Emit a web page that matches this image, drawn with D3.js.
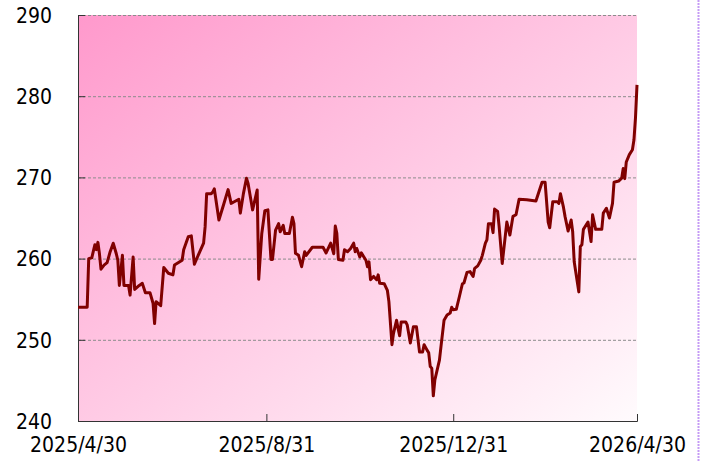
<!DOCTYPE html>
<html>
<head>
<meta charset="utf-8">
<script src="https://cdn.jsdelivr.net/npm/d3@7"></script>
<style>
  body { margin: 0; background: #fff; }
  text { font-family: "DejaVu Sans Condensed", "DejaVu Sans", sans-serif; }
</style>
</head>
<body>
<div id="chart"></div>
<script>
// data
var dates = [
  "2025-04-30","2025-05-06","2025-05-07","2025-05-09","2025-05-11","2025-05-12","2025-05-13","2025-05-14","2025-05-15","2025-05-17",
  "2025-05-19","2025-05-21","2025-05-23","2025-05-25","2025-05-26","2025-05-27","2025-05-29","2025-05-30","2025-06-02","2025-06-03",
  "2025-06-05","2025-06-06","2025-06-09","2025-06-11","2025-06-13","2025-06-16","2025-06-18","2025-06-19","2025-06-20","2025-06-23",
  "2025-06-25","2025-06-28","2025-07-01","2025-07-02","2025-07-07","2025-07-08","2025-07-11","2025-07-13","2025-07-15","2025-07-17",
  "2025-07-21","2025-07-22","2025-07-23","2025-07-26","2025-07-27","2025-07-28","2025-07-31","2025-08-03","2025-08-06","2025-08-08",
  "2025-08-10","2025-08-13","2025-08-14","2025-08-16","2025-08-18","2025-08-19","2025-08-22","2025-08-25","2025-08-26","2025-08-28",
  "2025-08-30","2025-09-01","2025-09-03","2025-09-04","2025-09-06","2025-09-08","2025-09-09","2025-09-11","2025-09-12","2025-09-15",
  "2025-09-17","2025-09-18","2025-09-19","2025-09-21","2025-09-23","2025-09-25","2025-09-26","2025-09-30","2025-10-07","2025-10-09",
  "2025-10-12","2025-10-14","2025-10-15","2025-10-16","2025-10-17","2025-10-20","2025-10-21","2025-10-23","2025-10-25","2025-10-27",
  "2025-10-28","2025-10-29","2025-10-31","2025-11-01","2025-11-04","2025-11-05","2025-11-06","2025-11-07","2025-11-09","2025-11-11",
  "2025-11-12","2025-11-13","2025-11-16","2025-11-18","2025-11-19","2025-11-21","2025-11-22","2025-11-24","2025-11-25","2025-11-26",
  "2025-11-27","2025-11-30","2025-12-01","2025-12-03","2025-12-05","2025-12-07","2025-12-09","2025-12-11","2025-12-12","2025-12-14",
  "2025-12-15","2025-12-16","2025-12-17","2025-12-18","2025-12-19","2025-12-22","2025-12-23","2025-12-25","2025-12-27","2025-12-29",
  "2025-12-30","2025-12-31","2026-01-02","2026-01-04","2026-01-06","2026-01-07","2026-01-09","2026-01-11","2026-01-13","2026-01-14",
  "2026-01-16","2026-01-18","2026-01-19","2026-01-21","2026-01-22","2026-01-23","2026-01-25","2026-01-26","2026-01-27","2026-01-29",
  "2026-01-30","2026-02-01","2026-02-04","2026-02-06","2026-02-08","2026-02-10","2026-02-12","2026-02-17","2026-02-23","2026-02-27",
  "2026-03-01","2026-03-03","2026-03-04","2026-03-06","2026-03-09","2026-03-10","2026-03-11","2026-03-13","2026-03-14","2026-03-16",
  "2026-03-18","2026-03-19","2026-03-20","2026-03-23","2026-03-24","2026-03-25","2026-03-26","2026-03-29","2026-03-31","2026-04-01",
  "2026-04-03","2026-04-07","2026-04-08","2026-04-10","2026-04-12","2026-04-14","2026-04-15","2026-04-18","2026-04-20","2026-04-21",
  "2026-04-22","2026-04-23","2026-04-25","2026-04-27","2026-04-28","2026-04-29","2026-04-30"
];
var prices = [
  254.0,254.0,260.0,260.1,261.7,261.1,262.0,260.6,258.7,259.2,
  259.5,260.85,261.9,260.6,259.8,256.7,260.4,256.7,256.7,255.5,
  260.2,256.2,256.7,256.95,255.8,255.8,254.5,252.0,254.7,254.2,
  258.9,258.2,258.0,259.2,259.8,261.1,262.7,262.8,259.3,260.2,
  261.9,263.9,268.0,268.0,268.2,268.6,264.75,266.6,268.5,266.8,
  267.0,267.3,265.6,268.0,269.9,269.3,266.0,268.45,257.45,263.1,
  265.9,266.0,259.9,259.9,263.5,264.3,263.3,264.1,263.1,263.1,
  265.1,264.3,260.65,260.4,259.0,260.85,260.4,261.4,261.4,260.7,
  261.9,260.6,264.0,263.1,259.9,259.8,261.1,260.85,261.25,261.9,
  260.85,261.25,260.2,260.7,259.8,259.0,259.6,257.4,257.8,257.4,
  258.0,256.95,256.9,256.1,254.7,249.4,250.8,252.4,251.4,250.5,
  252.2,252.2,251.8,249.6,251.6,251.6,248.5,248.5,249.4,248.7,
  248.4,246.7,246.5,243.1,245.05,247.5,249.15,252.4,253.05,253.3,
  254.0,253.7,253.75,255.3,256.9,257.0,258.3,258.4,257.8,258.8,
  259.1,259.8,260.4,261.9,262.3,264.3,264.3,263.2,266.1,265.8,
  263.9,259.4,264.5,262.9,265.2,265.4,267.3,267.25,267.1,269.4,
  269.4,264.5,263.8,267.0,267.0,266.8,268.0,266.3,265.2,263.4,
  264.75,263.3,259.6,255.9,261.5,261.7,263.6,264.5,262.1,265.4,
  263.6,263.6,265.6,266.2,265.0,266.8,269.4,269.55,269.9,271.1,
  269.85,271.9,272.8,273.4,274.6,277.3,281.4
];
var yTicks = [240, 250, 260, 270, 280, 290];
var xTicks = ["2025-04-30", "2025-08-31", "2025-12-31", "2026-04-30"];

var margin = {top: 15, right: 65, bottom: 40, left: 78},
    svgWidth = 702,
    svgHeight = 461;
var width = svgWidth - margin.left - margin.right,
    height = svgHeight - margin.top - margin.bottom;

var parseDate = d3.timeParse("%Y-%m-%d");
var fmt = d3.timeFormat("%Y/%-m/%-d");

var data = dates.map(function(d, i) { return {date: parseDate(d), value: prices[i]}; });

var svg = d3.select("#chart").append("svg")
    .attr("width", svgWidth).attr("height", svgHeight);

var defs = svg.append("defs");
var grad = defs.append("linearGradient").attr("id", "bg")
    .attr("x1", 0).attr("y1", 0).attr("x2", 1).attr("y2", 1);
grad.append("stop").attr("offset", "0%").attr("stop-color", "#ff99cc");
grad.append("stop").attr("offset", "100%").attr("stop-color", "#fffbfd");

var g = svg.append("g")
    .attr("transform", "translate(" + margin.left + "," + margin.top + ")");

var x = d3.scaleTime()
    .domain([parseDate(xTicks[0]), parseDate(xTicks[xTicks.length - 1])])
    .range([0, width]);
var y = d3.scaleLinear().domain([240, 290]).range([height, 0]);

g.append("rect").attr("width", width).attr("height", height).attr("fill", "url(#bg)");

// grid
g.selectAll(".grid").data(yTicks.slice(1)).enter().append("line")
    .attr("x1", 0).attr("x2", width)
    .attr("y1", function(d) { return y(d) + 0.5; })
    .attr("y2", function(d) { return y(d) + 0.5; })
    .attr("stroke", "#8c8c8c").attr("stroke-dasharray", "3,2");

var yAxis = g.append("g")
    .call(d3.axisLeft(y).tickValues(yTicks).tickSize(-7).tickPadding(26));
var xAxis = g.append("g").attr("transform", "translate(0," + height + ")")
    .call(d3.axisBottom(x).tickValues(xTicks.map(parseDate)).tickFormat(fmt)
      .tickSize(-7).tickPadding(16));

[yAxis, xAxis].forEach(function(a) {
  a.select(".domain").attr("stroke", "#333");
  a.selectAll(".tick line").attr("stroke", "#333");
  a.selectAll("text").attr("fill", "#000").style("font-size", "21px")
    .style("font-family", "'DejaVu Sans Condensed', 'DejaVu Sans', sans-serif");
});
yAxis.selectAll("text").attr("dy", "0.35em");

var line = d3.line()
    .x(function(d) { return x(d.date); })
    .y(function(d) { return y(d.value); });

g.append("path").datum(data)
    .attr("d", line)
    .attr("fill", "none")
    .attr("stroke", "#800000")
    .attr("stroke-width", 3)
    .attr("stroke-linejoin", "round");

// dotted border at the right
svg.append("line")
    .attr("x1", 698.5).attr("x2", 698.5).attr("y1", 0).attr("y2", svgHeight)
    .attr("stroke", "#c59cf5").attr("stroke-width", 2).attr("stroke-dasharray", "2,1");
</script>
</body>
</html>
